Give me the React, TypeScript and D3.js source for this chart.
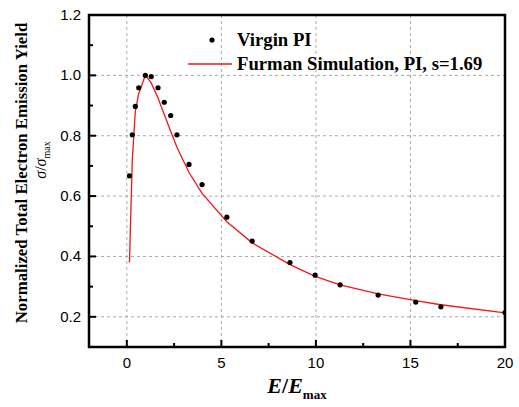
import React from "react";
import * as d3 from "d3";

const pointX = [0.14, 0.29, 0.45, 0.63, 0.98, 1.29, 1.65, 1.98, 2.32, 2.65, 3.29, 3.98, 5.29, 6.63, 8.63, 9.96, 11.28, 13.29, 15.28, 16.61, 20];
const pointY = [0.667, 0.803, 0.897, 0.959, 1.0, 0.996, 0.959, 0.911, 0.867, 0.803, 0.705, 0.638, 0.53, 0.451, 0.38, 0.338, 0.306, 0.272, 0.249, 0.233, 0.214];

const curveX = [0.14, 0.29, 0.45, 0.63, 0.98, 1.29, 1.65, 1.98, 2.32, 2.65, 3.29, 3.98, 5.29, 6.63, 8.63, 9.96, 11.28, 13.29, 15.28, 16.61, 20];
const curveY = [0.38, 0.72, 0.88, 0.94, 1.0, 0.975, 0.925, 0.87, 0.815, 0.762, 0.678, 0.609, 0.515, 0.445, 0.373, 0.334, 0.306, 0.276, 0.254, 0.24, 0.213];

const xTicks = [0, 5, 10, 15, 20];
const xMinor = [2.5, 7.5, 12.5, 17.5];
const yTicks = [0.2, 0.4, 0.6, 0.8, 1.0, 1.2];
const yMinor = [0.3, 0.5, 0.7, 0.9, 1.1];

const seriesNames = ["Virgin PI", "Furman Simulation, PI, s=1.69"];

export default function App() {
  const W = 519, H = 407;
  const L = 89, R = 505, T = 15, B = 347;
  const x = d3.scaleLinear().domain([-2, 20]).range([L, R]);
  const y = d3.scaleLinear().domain([0.1, 1.2]).range([B, T]);
  const line = d3.line<number>().x((_, i) => x(curveX[i])).y((d) => y(d));
  const serif = "'Liberation Serif', 'Times New Roman', serif";
  const sans = "'Liberation Sans', Arial, sans-serif";
  return (
    <svg width={W} height={H} style={{ position: "absolute", left: 0, top: 0 }}>
      <rect x={0} y={0} width={W} height={H} fill="#fff" />
      <defs>
        <clipPath id="plot">
          <rect x={L} y={T} width={R - L} height={B - T} />
        </clipPath>
      </defs>
      {/* grid */}
      {xTicks.filter((t) => t < 20).map((t) => (
        <line key={"gx" + t} x1={x(t)} x2={x(t)} y1={T} y2={B} stroke="#aaa" strokeWidth={1} strokeDasharray="3,3" />
      ))}
      {yTicks.filter((t) => t < 1.2).map((t) => (
        <line key={"gy" + t} x1={L} x2={R} y1={y(t)} y2={y(t)} stroke="#aaa" strokeWidth={1} strokeDasharray="3,3" />
      ))}
      {/* data */}
      <g clipPath="url(#plot)">
        <path d={line(curveY) || ""} fill="none" stroke="#f01818" strokeWidth={1.3} />
        {pointX.map((px, i) => (
          <circle key={"p" + i} cx={x(px)} cy={y(pointY[i])} r={2.6} fill="#000" />
        ))}
      </g>
      {/* ticks */}
      {xTicks.map((t) => (
        <line key={"tx" + t} x1={x(t)} x2={x(t)} y1={B} y2={B - 7} stroke="#000" strokeWidth={2} />
      ))}
      {xMinor.map((t) => (
        <line key={"mx" + t} x1={x(t)} x2={x(t)} y1={B} y2={B - 4} stroke="#000" strokeWidth={2} />
      ))}
      {yTicks.map((t) => (
        <line key={"ty" + t} x1={L} x2={L + 7} y1={y(t)} y2={y(t)} stroke="#000" strokeWidth={2} />
      ))}
      {yMinor.map((t) => (
        <line key={"my" + t} x1={L} x2={L + 4} y1={y(t)} y2={y(t)} stroke="#000" strokeWidth={2} />
      ))}
      {/* frame */}
      <rect x={L} y={T} width={R - L} height={B - T} fill="none" stroke="#000" strokeWidth={2.5} />
      {/* tick labels */}
      {xTicks.map((t) => (
        <text key={"lx" + t} x={x(t)} y={368} textAnchor="middle" fontFamily={sans} fontSize={15} fill="#000">
          {t}
        </text>
      ))}
      {yTicks.map((t) => (
        <text key={"ly" + t} x={81} y={y(t) + 5} textAnchor="end" fontFamily={sans} fontSize={15} fill="#000">
          {t.toFixed(1)}
        </text>
      ))}
      {/* axis titles */}
      <text x={297} y={393} textAnchor="middle" fontFamily={serif} fontWeight="bold" fontSize={22} fill="#000">
        <tspan fontStyle="italic">E</tspan>
        <tspan>/</tspan>
        <tspan fontStyle="italic">E</tspan>
        <tspan fontSize={13} dy={6}>max</tspan>
      </text>
      <text transform="translate(27,173) rotate(-90)" textAnchor="middle" fontFamily={serif} fontWeight="bold" fontSize={16.8} fill="#000">
        Normalized Total Electron Emission Yield
      </text>
      <text transform="translate(46,160) rotate(-90)" textAnchor="middle" fontFamily={serif} fontSize={16} fill="#000">
        <tspan fontStyle="italic">σ</tspan>
        <tspan>/</tspan>
        <tspan fontStyle="italic">σ</tspan>
        <tspan fontSize={10} dy={4}>max</tspan>
      </text>
      {/* legend */}
      <circle cx={212} cy={40} r={2.6} fill="#000" />
      <text x={237} y={45.5} fontFamily={serif} fontWeight="bold" fontSize={18.7} fill="#000">
        {seriesNames[0]}
      </text>
      <line x1={188} x2={232} y1={64} y2={64} stroke="#f01818" strokeWidth={1.3} />
      <text x={237} y={70} fontFamily={serif} fontWeight="bold" fontSize={18.7} fill="#000">
        {seriesNames[1]}
      </text>
    </svg>
  );
}
